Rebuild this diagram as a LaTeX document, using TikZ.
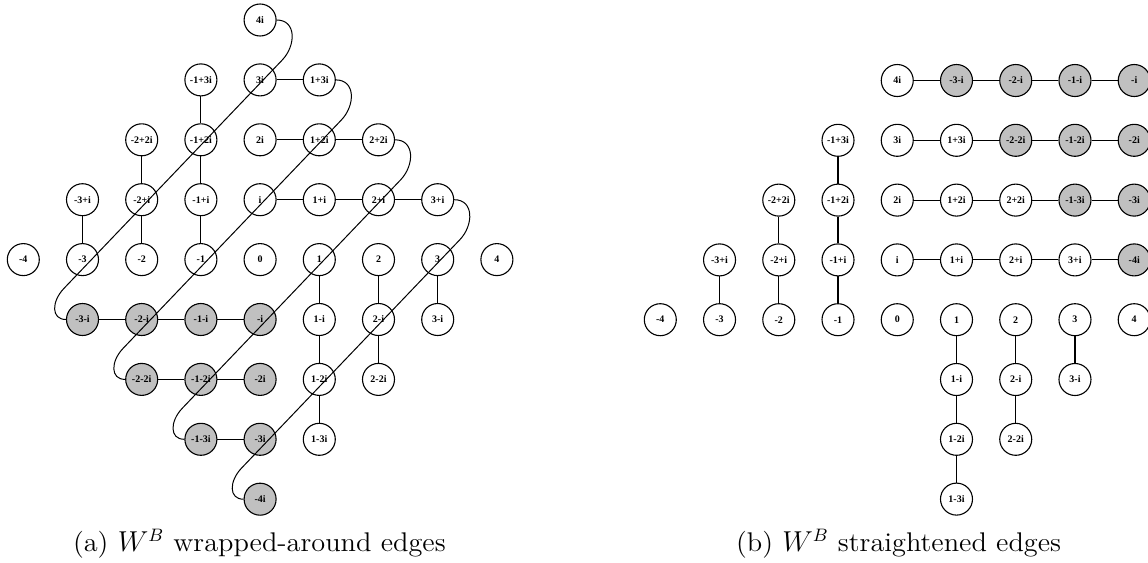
\documentclass[tikz,border=0pt]{standalone}
\usepackage{fontspec}
\newfontfamily\labfont{Liberation Serif}
\newfontfamily\capfont{Latin Modern Roman}[FakeStretch=1.05]
\usetikzlibrary{calc}
\definecolor{nodegray}{HTML}{C0C0C0}
\tikzset{
  vtx/.style={circle, draw=black, line width=0.55pt, minimum size=16pt, inner sep=0pt,
    font=\labfont\bfseries\fontsize{5}{6}\selectfont},
  gvtx/.style={vtx, fill=nodegray},
  edge/.style={line width=0.55pt},
  wrap/.style={line width=0.5pt},
  captext/.style={font=\capfont\fontsize{13.5}{16}\selectfont, inner sep=0pt, anchor=base}
}
% left diagram node: real, imag, label, style
\newcommand\LA[4]{\node[#4] (a#1r#2) at ({23.3+59.2*((#1)+4)},{-20-59.9*(4-(#2))}) {#3};}
% right diagram node: real, imag, column, row, label, style
\newcommand\RB[6]{\node[#6] (b#1r#2) at ({660.3+59.24*(#3)},{-80.5-59.8*(#4)}) {#5};}
% wrapped-around edge
\newcommand\WR[2]{\draw[wrap] (#1.east) .. controls +(20,0) and +(13.8,14.5) .. ($(#1.east)+(5.6,-40)$) -- ($(#2.west)+(-2.1,31)$) .. controls +(-12.4,-13.05) and +(-15,0) .. (#2.west);}
\begin{document}
\begin{tikzpicture}[x=0.5pt,y=0.5pt]
\useasboundingbox (0,0) rectangle (1148,-563);
% ---------------- (a) ----------------
\LA{0}{4}{4i}{vtx}
\LA{-1}{3}{-1+3i}{vtx} \LA{0}{3}{3i}{vtx} \LA{1}{3}{1+3i}{vtx}
\LA{-2}{2}{-2+2i}{vtx} \LA{-1}{2}{-1+2i}{vtx} \LA{0}{2}{2i}{vtx} \LA{1}{2}{1+2i}{vtx} \LA{2}{2}{2+2i}{vtx}
\LA{-3}{1}{-3+i}{vtx} \LA{-2}{1}{-2+i}{vtx} \LA{-1}{1}{-1+i}{vtx} \LA{0}{1}{i}{vtx} \LA{1}{1}{1+i}{vtx} \LA{2}{1}{2+i}{vtx} \LA{3}{1}{3+i}{vtx}
\LA{-4}{0}{-4}{vtx} \LA{-3}{0}{-3}{vtx} \LA{-2}{0}{-2}{vtx} \LA{-1}{0}{-1}{vtx} \LA{0}{0}{0}{vtx} \LA{1}{0}{1}{vtx} \LA{2}{0}{2}{vtx} \LA{3}{0}{3}{vtx} \LA{4}{0}{4}{vtx}
\LA{-3}{-1}{-3-i}{gvtx} \LA{-2}{-1}{-2-i}{gvtx} \LA{-1}{-1}{-1-i}{gvtx} \LA{0}{-1}{-i}{gvtx} \LA{1}{-1}{1-i}{vtx} \LA{2}{-1}{2-i}{vtx} \LA{3}{-1}{3-i}{vtx}
\LA{-2}{-2}{-2-2i}{gvtx} \LA{-1}{-2}{-1-2i}{gvtx} \LA{0}{-2}{-2i}{gvtx} \LA{1}{-2}{1-2i}{vtx} \LA{2}{-2}{2-2i}{vtx}
\LA{-1}{-3}{-1-3i}{gvtx} \LA{0}{-3}{-3i}{gvtx} \LA{1}{-3}{1-3i}{vtx}
\LA{0}{-4}{-4i}{gvtx}
\draw[edge] (a0r3)--(a1r3);
\draw[edge] (a0r2)--(a1r2)--(a2r2);
\draw[edge] (a0r1)--(a1r1)--(a2r1)--(a3r1);
\draw[edge] (a-3r-1)--(a-2r-1)--(a-1r-1)--(a0r-1);
\draw[edge] (a-2r-2)--(a-1r-2)--(a0r-2);
\draw[edge] (a-1r-3)--(a0r-3);
\draw[edge] (a-1r3)--(a-1r2)--(a-1r1)--(a-1r0);
\draw[edge] (a-2r2)--(a-2r1)--(a-2r0);
\draw[edge] (a-3r1)--(a-3r0);
\draw[edge] (a1r0)--(a1r-1)--(a1r-2)--(a1r-3);
\draw[edge] (a2r0)--(a2r-1)--(a2r-2);
\draw[edge] (a3r0)--(a3r-1);
\WR{a0r4}{a-3r-1}
\WR{a1r3}{a-2r-2}
\WR{a2r2}{a-1r-3}
\WR{a3r1}{a0r-4}
\node[captext] (capa) at (259.4,-551.5) {(a) $W^B$ wrapped-around edges};
% ---------------- (b) ----------------
\RB{0}{4}{4}{0}{4i}{vtx} \RB{-3}{-1}{5}{0}{-3-i}{gvtx} \RB{-2}{-1}{6}{0}{-2-i}{gvtx} \RB{-1}{-1}{7}{0}{-1-i}{gvtx} \RB{0}{-1}{8}{0}{-i}{gvtx}
\RB{-1}{3}{3}{1}{-1+3i}{vtx} \RB{0}{3}{4}{1}{3i}{vtx} \RB{1}{3}{5}{1}{1+3i}{vtx} \RB{-2}{-2}{6}{1}{-2-2i}{gvtx} \RB{-1}{-2}{7}{1}{-1-2i}{gvtx} \RB{0}{-2}{8}{1}{-2i}{gvtx}
\RB{-2}{2}{2}{2}{-2+2i}{vtx} \RB{-1}{2}{3}{2}{-1+2i}{vtx} \RB{0}{2}{4}{2}{2i}{vtx} \RB{1}{2}{5}{2}{1+2i}{vtx} \RB{2}{2}{6}{2}{2+2i}{vtx} \RB{-1}{-3}{7}{2}{-1-3i}{gvtx} \RB{0}{-3}{8}{2}{-3i}{gvtx}
\RB{-3}{1}{1}{3}{-3+i}{vtx} \RB{-2}{1}{2}{3}{-2+i}{vtx} \RB{-1}{1}{3}{3}{-1+i}{vtx} \RB{0}{1}{4}{3}{i}{vtx} \RB{1}{1}{5}{3}{1+i}{vtx} \RB{2}{1}{6}{3}{2+i}{vtx} \RB{3}{1}{7}{3}{3+i}{vtx} \RB{0}{-4}{8}{3}{-4i}{gvtx}
\RB{-4}{0}{0}{4}{-4}{vtx} \RB{-3}{0}{1}{4}{-3}{vtx} \RB{-2}{0}{2}{4}{-2}{vtx} \RB{-1}{0}{3}{4}{-1}{vtx} \RB{0}{0}{4}{4}{0}{vtx} \RB{1}{0}{5}{4}{1}{vtx} \RB{2}{0}{6}{4}{2}{vtx} \RB{3}{0}{7}{4}{3}{vtx} \RB{4}{0}{8}{4}{4}{vtx}
\RB{1}{-1}{5}{5}{1-i}{vtx} \RB{2}{-1}{6}{5}{2-i}{vtx} \RB{3}{-1}{7}{5}{3-i}{vtx}
\RB{1}{-2}{5}{6}{1-2i}{vtx} \RB{2}{-2}{6}{6}{2-2i}{vtx}
\RB{1}{-3}{5}{7}{1-3i}{vtx}
\draw[edge] (b0r4)--(b-3r-1)--(b-2r-1)--(b-1r-1)--(b0r-1);
\draw[edge] (b0r3)--(b1r3)--(b-2r-2)--(b-1r-2)--(b0r-2);
\draw[edge] (b0r2)--(b1r2)--(b2r2)--(b-1r-3)--(b0r-3);
\draw[edge] (b0r1)--(b1r1)--(b2r1)--(b3r1)--(b0r-4);
\draw[edge] (b-1r3)--(b-1r2)--(b-1r1)--(b-1r0);
\draw[edge] (b-2r2)--(b-2r1)--(b-2r0);
\draw[edge] (b-3r1)--(b-3r0);
\draw[edge] (b1r0)--(b1r-1)--(b1r-2)--(b1r-3);
\draw[edge] (b2r0)--(b2r-1)--(b2r-2);
\draw[edge] (b3r0)--(b3r-1);
\node[captext] (capb) at (898.6,-551.5) {(b) $W^B$ straightened edges};
\end{tikzpicture}
\end{document}
